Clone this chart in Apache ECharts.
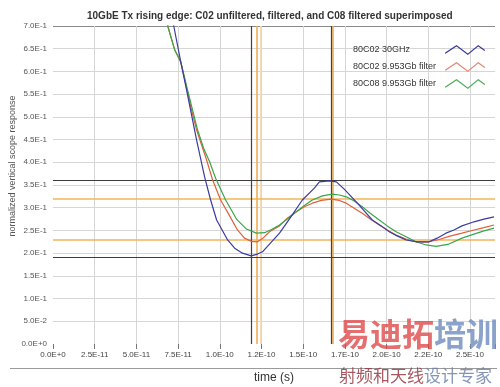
<!DOCTYPE html>
<html><head><meta charset="utf-8">
<script src="https://cdn.jsdelivr.net/npm/echarts@6/dist/echarts.min.js"></script>
<style>html,body{margin:0;padding:0;background:#fff}#c{width:500px;height:387px}</style>
</head><body><div id="c"></div>
<script>
// time in picoseconds (1 ps = 1E-12 s)
const xTickLabels = ['0.0E+0','2.5E-11','5.0E-11','7.5E-11','1.0E-10','1.2E-10','1.5E-10','1.7E-10','2.0E-10','2.2E-10','2.5E-10'];
const seriesNames = ['80C02 30GHz','80C02 9.953Gb filter','80C08 9.953Gb filter'];

const blueT = [68.8,72.4,76.6,80.1,83.7,86.1,90.9,94.5,98.1,104.7,108.9,113.6,118.8,122.6,125.6,129.8,135.8,141.7,149.5,156.7,159.7,165.7,169.9,174.6,181.8,186.6,191.4,196.8,201.6,206.3,211.7,218.3,225.5,230.3,235.6,240.4,245.2,252.4,258.4,264.4];
const blueV = [0.768,0.700,0.621,0.559,0.493,0.449,0.368,0.317,0.273,0.229,0.211,0.200,0.194,0.198,0.203,0.220,0.244,0.275,0.317,0.343,0.357,0.359,0.357,0.341,0.313,0.293,0.273,0.260,0.247,0.238,0.229,0.225,0.225,0.233,0.244,0.251,0.260,0.269,0.275,0.280];

const redT = [65.8,68.8,73.0,76.6,80.1,83.1,86.1,89.1,92.1,95.7,100.5,105.9,110.6,114.8,119.0,122.6,125.6,129.8,135.8,140.5,145.9,150.7,155.5,160.9,166.7,171.7,175.8,180.6,185.4,190.2,195.6,200.4,205.7,211.7,217.7,225.5,231.5,237.4,245.2,252.4,258.4,264.4];
const redV = [0.768,0.700,0.647,0.621,0.564,0.515,0.471,0.438,0.405,0.361,0.317,0.282,0.251,0.233,0.226,0.225,0.232,0.247,0.260,0.277,0.291,0.302,0.310,0.316,0.319,0.316,0.310,0.299,0.288,0.275,0.262,0.251,0.240,0.231,0.225,0.225,0.230,0.237,0.244,0.251,0.256,0.262];

const greenT = [65.8,68.8,73.0,76.6,80.7,83.7,86.7,90.3,93.9,97.5,103.5,110.0,116.0,122.0,126.8,131.0,135.8,141.1,145.9,150.7,155.5,161.5,167.5,171.7,175.8,180.6,185.4,190.2,195.6,200.4,205.7,211.7,217.7,223.7,229.7,237.4,245.2,252.4,258.4,264.4];
const greenV = [0.768,0.700,0.647,0.621,0.559,0.515,0.471,0.431,0.401,0.365,0.317,0.275,0.253,0.244,0.245,0.252,0.262,0.277,0.291,0.305,0.317,0.326,0.330,0.328,0.324,0.315,0.302,0.288,0.273,0.260,0.247,0.236,0.225,0.218,0.215,0.220,0.233,0.242,0.249,0.255];

// cursor positions
const cursorXBlack = [119.0, 166.6];
const cursorXOrange = [122.3, 167.8];
const cursorXFaint = [124.4];
const cursorYBlack = [0.3595, 0.1944];
const cursorYOrange = [0.317, 0.2252];

const zip = (a, b) => a.map((v, i) => [v, b[i]]);
const colors = ['#3b3ba0', '#e0603c', '#3aa64a'];
const legendColors = ['#3a3a9a', '#e28878', '#4caf5a'];
const zig = 'path://M0,8L12,0L24,9L35,0L42,5L42,6.6L35,1.6L24,10.6L12,1.6L0,9.6Z';

const ySplitColors = ['rgba(0,0,0,0)'].concat(Array(13).fill('#d6d6d6')).concat(['#8a8a8a']);
const xSplitColors = ['rgba(0,0,0,0)'].concat(Array(10).fill('#d6d6d6')).concat(['rgba(0,0,0,0)']);

const markLineData = []
  .concat(cursorXFaint.map(v => ({xAxis: v, lineStyle: {color: '#f3dcb4', width: 1.2, type: 'solid'}})))
  .concat(cursorYOrange.map(v => ({yAxis: v, lineStyle: {color: '#f0b45c', width: 1.6, type: 'solid'}})))
  .concat(cursorXOrange.map(v => ({xAxis: v, lineStyle: {color: '#efae55', width: 1.6, type: 'solid'}})))
  .concat(cursorYBlack.map(v => ({yAxis: v, lineStyle: {color: '#3c3c3c', width: 1.2, type: 'solid'}})))
  .concat(cursorXBlack.map(v => ({xAxis: v, lineStyle: {color: '#454038', width: 1.2, type: 'solid'}})));

const FONT = 'Liberation Sans, Arial, sans-serif';

const chart = echarts.init(document.getElementById('c'), null, {renderer: 'canvas'});
chart.setOption({
  animation: false,
  backgroundColor: '#ffffff',
  textStyle: {fontFamily: FONT},
  title: {
    text: '10GbE Tx rising edge: C02 unfiltered, filtered, and C08 filtered superimposed',
    left: 82, top: 6,
    textStyle: {fontSize: 10, fontWeight: 'bold', color: '#333', fontFamily: FONT}
  },
  grid: {left: 53, right: 5, top: 26, bottom: 43, containLabel: false, outerBoundsMode: 'none'},
  legend: {
    orient: 'vertical', left: 348, top: 40, align: 'right',
    itemWidth: 42, itemHeight: 10, itemGap: 7,
    icon: zig,
    data: seriesNames.map((n, i) => ({name: n, itemStyle: {color: legendColors[i]}})),
    formatter: n => '{a|' + n + '}',
    textStyle: {color: '#333', fontSize: 9, fontFamily: FONT,
      rich: {a: {width: 86, align: 'left', fontSize: 9, color: '#333', fontFamily: FONT}}}
  },
  xAxis: {
    type: 'value', min: 0, max: 265, interval: 25,
    name: 'time (s)', nameLocation: 'middle', nameGap: 28, nameMoveOverlap: false,
    nameTextStyle: {fontSize: 12, color: '#333', fontFamily: FONT},
    axisLine: {show: false},
    axisTick: {show: true, length: 5, lineStyle: {color: '#777'}},
    axisLabel: {
      fontSize: 8, color: '#444', margin: 7, fontFamily: FONT, showMaxLabel: true,
      formatter: v => {
        const i = Math.round(v / 25);
        return (Math.abs(v - i * 25) < 1e-6 && i < xTickLabels.length) ? xTickLabels[i] : '';
      }
    },
    splitLine: {show: true, lineStyle: {color: xSplitColors, width: 1}}
  },
  yAxis: {
    type: 'value', min: 0, max: 0.7, interval: 0.05,
    name: 'normalized vertical scope response', nameLocation: 'middle', nameGap: 36, nameMoveOverlap: false,
    nameTextStyle: {fontSize: 9, color: '#555', fontFamily: FONT, padding: [0, 0, 0, 38]},
    axisLine: {show: false},
    axisTick: {show: false},
    axisLabel: {
      fontSize: 8, color: '#555', margin: 6, fontFamily: FONT,
      formatter: v => v.toExponential(1).replace('e', 'E')
    },
    splitLine: {show: true, lineStyle: {color: ySplitColors, width: 1}}
  },
  series: [
    {
      name: seriesNames[0], type: 'line', data: zip(blueT, blueV), showSymbol: false, symbol: 'none',
      lineStyle: {color: colors[0], width: 1.2}, itemStyle: {color: legendColors[0]}, z: 5, clip: true,
      markLine: {silent: true, symbol: ['none', 'none'], label: {show: false}, data: markLineData, z: 3}
    },
    {
      name: seriesNames[1], type: 'line', data: zip(redT, redV), showSymbol: false, symbol: 'none',
      lineStyle: {color: colors[1], width: 1.2}, itemStyle: {color: legendColors[1]}, z: 4, clip: true
    },
    {
      name: seriesNames[2], type: 'line', data: zip(greenT, greenV), showSymbol: false, symbol: 'none',
      lineStyle: {color: colors[2], width: 1.2}, itemStyle: {color: legendColors[2]}, z: 4, clip: true
    }
  ],
  graphic: [
    {type: 'line', shape: {x1: 10, y1: 368.5, x2: 497, y2: 368.5}, style: {stroke: '#9a9a9a', lineWidth: 1}, z: 1},
    {type: 'text', left: 338, top: 318, z: 20, style: {
      text: '{r|易迪拓}{b|培训}', fontFamily: 'Noto Sans CJK SC', fontWeight: 'bold',
      rich: {
        r: {fontSize: 32, fontWeight: 'bold', fontFamily: 'Noto Sans CJK SC', fill: 'rgba(222,70,70,0.78)'},
        b: {fontSize: 32, fontWeight: 'bold', fontFamily: 'Noto Sans CJK SC', fill: 'rgba(110,140,190,0.8)'}
      }}},
    {type: 'text', left: 339, top: 367, z: 20, style: {
      text: '{r|射频和天线}{b|设计专家}', fontFamily: 'Noto Sans CJK SC',
      rich: {
        r: {fontSize: 17, fontFamily: 'Noto Sans CJK SC', fill: 'rgba(150,60,70,0.85)'},
        b: {fontSize: 17, fontFamily: 'Noto Sans CJK SC', fill: 'rgba(110,130,170,0.85)'}
      }}}
  ]
});
</script>
</body></html>
